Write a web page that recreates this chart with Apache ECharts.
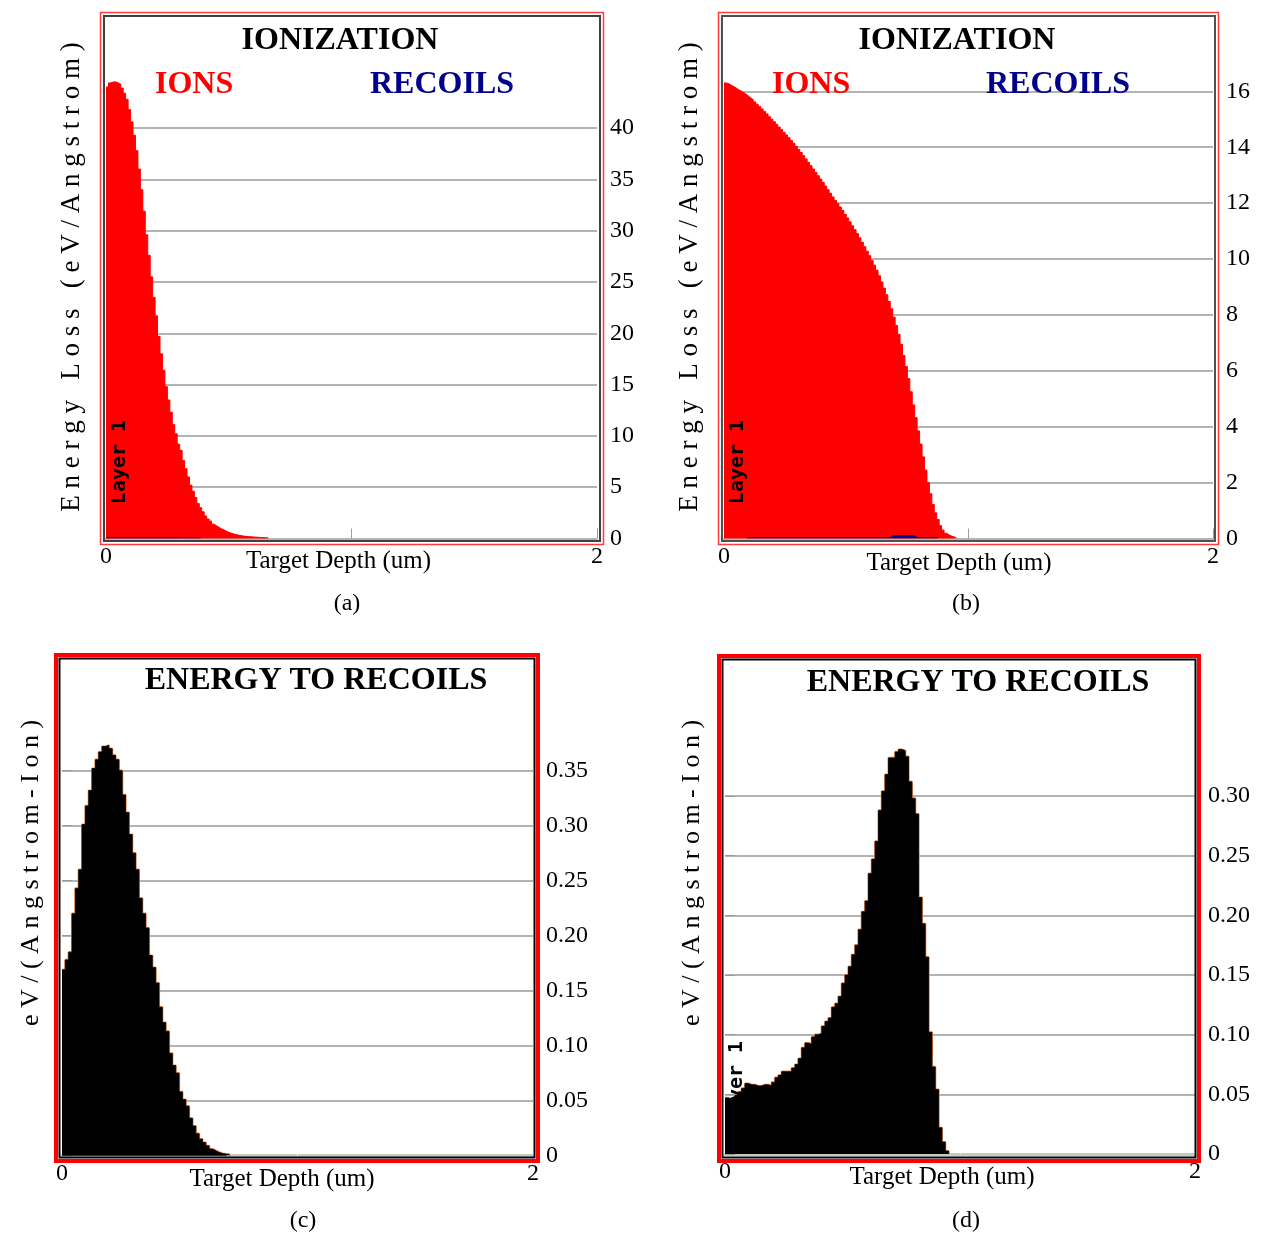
<!DOCTYPE html>
<html><head><meta charset="utf-8">
<script src="https://cdn.jsdelivr.net/npm/echarts@6/dist/echarts.min.js"></script>
<style>html,body{margin:0;padding:0;background:#fff}#c{width:1262px;height:1236px}</style>
</head><body><div id="c"></div><script>
// ---------- data ----------
const DEPTH_STEP_AB = 0.01;    // um per histogram bin, panels (a),(b)
const DEPTH_STEP_CD = 0.0142;  // um per histogram bin, panels (c),(d)
const X_TICKS = [0, 1, 2];
const X_LABELS = ['0', '', '2'];

const ionsA = [44.0,44.4,44.5,44.5,44.4,44.3,43.9,43.4,42.8,41.8,
  40.6,39.3,37.8,36.0,34.0,31.9,29.6,27.6,25.5,23.5,
  21.7,19.7,18.0,16.4,14.8,13.5,12.3,11.1,10.2,9.2,
  8.6,7.6,6.8,6.0,5.2,4.6,4.0,3.4,3.0,2.6,
  2.2,1.9,1.7,1.4,1.25,1.1,0.95,0.85,0.72,0.6,
  0.52,0.45,0.38,0.33,0.28,0.24,0.21,0.19,0.17,0.15,
  0.13,0.12,0.1,0.09,0.08,0.07];
const recoilsA = [0.12,0.12,0.12,0.12,0.12,0.12,0.12,0.12,0.12,0.12,
  0.12,0.12,0.12,0.12,0.12,0.12,0.12,0.12,0.12,0.12,
  0.11,0.11,0.11,0.11,0.11,0.11,0.11,0.11,0.11,0.11,
  0.1,0.1,0.1,0.1,0.1,0.1,0.1,0.1,0.1];

const ionsB = [16.3,16.27,16.22,16.17,16.12,16.06,16.01,15.96,15.9,15.83,
  15.76,15.7,15.62,15.54,15.46,15.37,15.28,15.19,15.09,15.0,
  14.91,14.82,14.72,14.63,14.53,14.44,14.34,14.24,14.14,14.03,
  13.92,13.81,13.7,13.58,13.46,13.34,13.22,13.1,12.98,12.86,
  12.74,12.61,12.48,12.35,12.22,12.1,11.98,11.86,11.74,11.6,
  11.47,11.33,11.19,11.05,10.91,10.76,10.6,10.44,10.28,10.12,
  9.95,9.78,9.6,9.4,9.18,8.96,8.72,8.48,8.22,7.92,
  7.62,7.3,6.95,6.55,6.15,5.72,5.25,4.78,4.32,3.85,
  3.38,2.92,2.45,2.0,1.6,1.22,0.92,0.68,0.46,0.3,
  0.19,0.13,0.09,0.06,0.03];
const recoilsB = [0,0,0,0,0,0,0,0,0,0.05,
  0.05,0.05,0.05,0.05,0.05,0.05,0.05,0.05,0.05,0.05,
  0.05,0.05,0.05,0.05,0.05,0.05,0.05,0.05,0.05,0.05,
  0.05,0.05,0.05,0.05,0.05,0.05,0.05,0.05,0.05,0.05,
  0.05,0.05,0.05,0.05,0.05,0.05,0.05,0.05,0.05,0.05,
  0.05,0.05,0.05,0.05,0.05,0.05,0.05,0.05,0.05,0.05,
  0.05,0.05,0.05,0.05,0.05,0.05,0.05,0.05,0.12,0.12,
  0.12,0.12,0.12,0.12,0.12,0.12,0.12,0.12,0.05,0.05,
  0.05,0.05,0.05,0.05,0.05,0.05,0.05,0.05];

const recoilsC = [0.169,0.178,0.185,0.22,0.243,0.26,0.301,0.318,0.332,0.352,
  0.36,0.367,0.372,0.373,0.37,0.364,0.36,0.35,0.328,0.312,
  0.292,0.275,0.26,0.234,0.22,0.207,0.182,0.171,0.157,0.135,
  0.121,0.113,0.093,0.082,0.075,0.058,0.051,0.045,0.034,0.027,
  0.02,0.015,0.012,0.009,0.006,0.0045,0.003,0.002,0.0015,0.0012];

const recoilsD = [0.047,0.046,0.046,0.049,0.052,0.055,0.059,0.058,0.058,0.057,
  0.057,0.058,0.058,0.057,0.06,0.064,0.066,0.069,0.069,0.069,
  0.072,0.075,0.08,0.089,0.093,0.092,0.098,0.1,0.101,0.107,
  0.111,0.114,0.123,0.126,0.132,0.143,0.15,0.157,0.167,0.175,
  0.188,0.203,0.212,0.235,0.247,0.262,0.288,0.304,0.318,0.332,
  0.332,0.337,0.339,0.338,0.333,0.312,0.298,0.285,0.215,0.193,
  0.165,0.102,0.073,0.054,0.022,0.01,0.0025];

// ---------- helpers ----------
function bins(values, step) {
  const d = values.map((v, i) => [+(i * step).toFixed(5), v]);
  d.push([+(values.length * step).toFixed(5), 0]);
  return d;
}
const SERIF = '"Liberation Serif", "DejaVu Serif", serif';
const fmtInt = v => (Math.abs(v - Math.round(v)) < 1e-6 ? String(Math.round(v)) : '');
const fmtDec = v => {
  const k = Math.round(v / 0.05);
  if (Math.abs(v - k * 0.05) > 1e-6) return '';
  return k === 0 ? '0' : (k * 0.05).toFixed(2);
};

const grids = [
  { left: 106, top: 77.8, width: 491, height: 460.7 },
  { left: 724, top: 49.4, width: 489, height: 489.1 },
  { left: 62, top: 726.7, width: 471, height: 429 },
  { left: 725, top: 742.4, width: 470, height: 411.6 }
];
const yCfg = [
  { max: 44.9, interval: 5, fmt: fmtInt, tick: false },
  { max: 17.5, interval: 2, fmt: fmtInt, tick: false },
  { max: 0.39, interval: 0.05, fmt: fmtDec, tick: true },
  { max: 0.345, interval: 0.05, fmt: fmtDec, tick: true }
];
const nameShift = [26, 19, 31, 36];
const nameGap = [10, 12, 11, 11];

const xAxes = grids.map((g, i) => ({
  type: 'value', gridIndex: i, min: 0, max: 2, interval: 1,
  name: 'Target Depth (um)', nameLocation: 'middle', nameGap: nameGap[i], nameMoveOverlap: false,
  nameTextStyle: { fontFamily: SERIF, fontSize: 25, color: '#000', padding: [0, nameShift[i], 0, 0] },
  axisLine: { show: true, lineStyle: { color: i < 2 ? '#b4b4b4' : '#c8c8c8', width: i < 2 ? 2 : 3 } },
  axisTick: { show: true, inside: true, length: i < 2 ? 10 : 3, lineStyle: { color: i < 2 ? '#9a9a9a' : '#ffffff', width: 1 } },
  splitLine: { show: false },
  axisLabel: { margin: 6, fontFamily: SERIF, fontSize: 24, color: '#000',
    formatter: v => X_LABELS[X_TICKS.indexOf(v)] || '' }
}));
const yAxes = grids.map((g, i) => ({
  type: 'value', gridIndex: i, position: 'right', min: 0, max: yCfg[i].max, interval: yCfg[i].interval,
  axisLine: { show: false },
  axisTick: { show: yCfg[i].tick, length: 10, lineStyle: { color: '#9a9a9a' } },
  splitLine: { show: true, showMaxLine: false, lineStyle: { color: '#9a9a9a', width: 1.5 } },
  axisLabel: { margin: 13, fontFamily: SERIF, fontSize: 24, color: '#000', showMaxLabel: false, formatter: yCfg[i].fmt }
}));

const redFill = '#ff0000', navy = '#00008b';
const series = [
  { name: 'IONS', type: 'line', xAxisIndex: 0, yAxisIndex: 0, step: 'end', symbol: 'none', z: 2,
    lineStyle: { color: redFill, width: 1 }, itemStyle: { color: redFill }, areaStyle: { color: redFill, opacity: 1 },
    data: bins(ionsA, DEPTH_STEP_AB) },
  { name: 'RECOILS', type: 'line', xAxisIndex: 0, yAxisIndex: 0, step: 'end', symbol: 'none', z: 3,
    lineStyle: { width: 0 }, itemStyle: { color: navy }, areaStyle: { color: navy, opacity: 1 },
    data: bins(recoilsA, DEPTH_STEP_AB) },
  { name: 'IONS', type: 'line', xAxisIndex: 1, yAxisIndex: 1, step: 'end', symbol: 'none', z: 2,
    lineStyle: { color: redFill, width: 1 }, itemStyle: { color: redFill }, areaStyle: { color: redFill, opacity: 1 },
    data: bins(ionsB, DEPTH_STEP_AB) },
  { name: 'RECOILS', type: 'line', xAxisIndex: 1, yAxisIndex: 1, step: 'end', symbol: 'none', z: 3,
    lineStyle: { width: 0 }, itemStyle: { color: navy }, areaStyle: { color: navy, opacity: 1 },
    data: bins(recoilsB, DEPTH_STEP_AB) }
];
[[2, recoilsC], [3, recoilsD]].forEach(([gi, vals]) => {
  series.push({ name: 'outline' + gi, type: 'line', xAxisIndex: gi, yAxisIndex: gi, step: 'end', symbol: 'none', z: 2,
    lineStyle: { color: '#f08a4b', width: 2.2 }, data: bins(vals, DEPTH_STEP_CD) });
  series.push({ name: 'energy' + gi, type: 'line', xAxisIndex: gi, yAxisIndex: gi, step: 'end', symbol: 'none', z: 3,
    lineStyle: { color: '#000', width: 0.8 }, areaStyle: { color: '#000', opacity: 1 }, data: bins(vals, DEPTH_STEP_CD) });
});

const legendBase = { orient: 'horizontal', icon: 'none', itemWidth: 0, itemHeight: 0, padding: 0, selectedMode: false };
const legTxt = c => ({ fontFamily: SERIF, fontSize: 32, fontWeight: 'bold', color: c, lineHeight: 34 });
const legend = [
  Object.assign({}, legendBase, { left: 150, top: 68, data: [{ name: 'IONS', textStyle: legTxt(redFill) }] }),
  Object.assign({}, legendBase, { left: 365, top: 68, data: [{ name: 'RECOILS', textStyle: legTxt(navy) }] }),
  Object.assign({}, legendBase, { left: 767, top: 68, data: [{ name: 'IONS', textStyle: legTxt(redFill) }] }),
  Object.assign({}, legendBase, { left: 981, top: 68, data: [{ name: 'RECOILS', textStyle: legTxt(navy) }] })
];

const titleTxt = { fontFamily: SERIF, fontSize: 32, fontWeight: 'bold', color: '#000', lineHeight: 34 };
const title = [
  { text: 'IONIZATION', left: 340, top: 24, textAlign: 'center', padding: 0, textStyle: titleTxt },
  { text: 'IONIZATION', left: 957, top: 24, textAlign: 'center', padding: 0, textStyle: titleTxt },
  { text: 'ENERGY TO RECOILS', left: 316, top: 664, textAlign: 'center', padding: 0, textStyle: titleTxt },
  { text: 'ENERGY TO RECOILS', left: 978, top: 666, textAlign: 'center', padding: 0, textStyle: titleTxt }
];

function frame(x1, y1, x2, y2, color, w) {
  return { type: 'rect', z: 100, silent: true,
    shape: { x: x1, y: y1, width: x2 - x1, height: y2 - y1 },
    style: { fill: 'none', stroke: color, lineWidth: w } };
}
function vtext(txt, x, y, font, color) {
  return { type: 'text', z: 100, x: x, y: y, rotation: Math.PI / 2, silent: true,
    style: { text: txt, font: font, fill: color || '#000', align: 'center', verticalAlign: 'middle' } };
}
function htext(txt, x, y) {
  return { type: 'text', z: 100, x: x, y: y, silent: true,
    style: { text: txt, font: '24px ' + SERIF, fill: '#000', align: 'center', verticalAlign: 'middle' } };
}
const yTitleAB = 'E n e r g y   L o s s   ( e V / A n g s t r o m )';
const yTitleCD = 'e V / ( A n g s t r o m - I o n )';
const layerFont = 'bold 20px "DejaVu Sans Mono", monospace';
const graphic = [
  frame(100.5, 12.5, 603.5, 544.5, '#ff3b3b', 1.5),
  frame(104, 16, 600, 541, '#404040', 2),
  frame(718.5, 12.5, 1218.5, 544.5, '#ff3b3b', 1.5),
  frame(722, 16, 1215, 541, '#505050', 2),
  frame(56, 655, 538, 1161, '#ff0000', 4),
  frame(59.5, 658.5, 534.5, 1157.5, '#000', 2),
  frame(719, 656, 1199, 1161, '#ff0000', 4),
  frame(722.5, 659.5, 1195.5, 1157.5, '#000', 2),
  vtext(yTitleAB, 72, 277, '27px ' + SERIF),
  vtext(yTitleAB, 690, 277, '27px ' + SERIF),
  vtext(yTitleCD, 31, 873, '26px ' + SERIF),
  vtext(yTitleCD, 692, 873, '26px ' + SERIF),
  vtext('Layer 1', 120, 462, layerFont),
  vtext('Layer 1', 738, 462, layerFont),
  vtext('Layer 1', 76, 1100, layerFont),
  vtext('Layer 1', 737, 1083, layerFont),
  htext('(a)', 347, 604),
  htext('(b)', 966, 604),
  htext('(c)', 303, 1221),
  htext('(d)', 966, 1221)
];

const chart = echarts.init(document.getElementById('c'), null, { renderer: 'canvas' });
chart.setOption({
  animation: false,
  backgroundColor: '#ffffff',
  title: title,
  legend: legend,
  grid: grids,
  xAxis: xAxes,
  yAxis: yAxes,
  series: series,
  graphic: graphic
});
</script></body></html>
